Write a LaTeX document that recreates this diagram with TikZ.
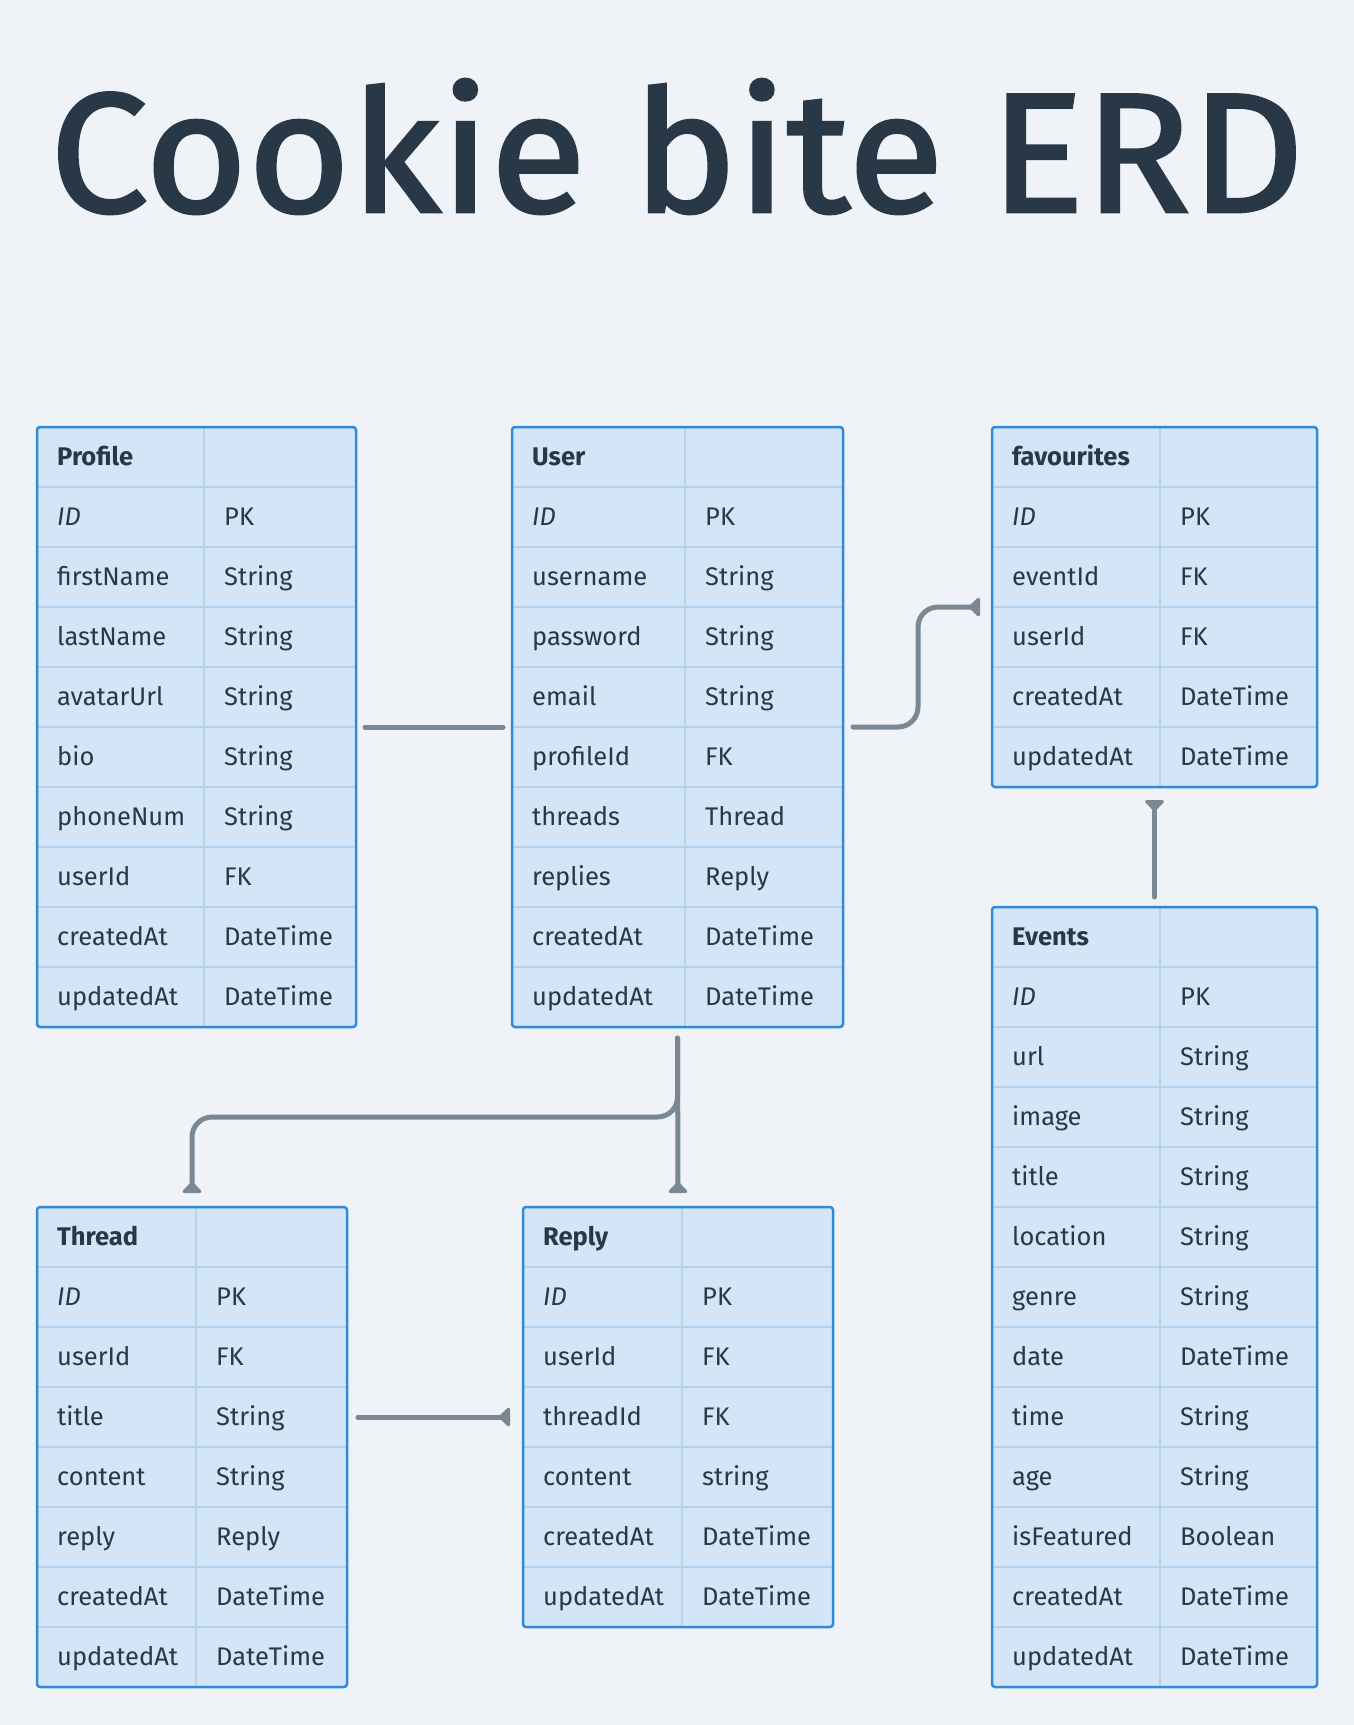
\documentclass[tikz,border=0pt]{standalone}
\usepackage{fontspec}
\setmainfont{Fira Sans}
\newfontfamily\titlefont[FakeBold=1.6]{Fira Sans}
\usetikzlibrary{arrows.meta,calc}
\definecolor{bg}{HTML}{EFF3F7}
\definecolor{tabfill}{HTML}{D3E5F6}
\definecolor{tabborder}{HTML}{3189DA}
\definecolor{gridblue}{HTML}{B3D3F2}
\definecolor{ink}{HTML}{283847}
\definecolor{linkgray}{HTML}{7A8896}
\tikzset{
  tablebox/.style={fill=tabfill, rounded corners=3pt, inner sep=0pt, outer sep=0pt},
  tableborder/.style={draw=tabborder, line width=2.5pt, rounded corners=3pt},
  gridline/.style={draw=gridblue, line width=2pt},
  celltext/.style={font=\fontsize{25.5}{29}\selectfont, text=ink, inner sep=0pt, anchor=base west},
  link/.style={draw=linkgray, line width=5pt, line cap=round, rounded corners=20pt},
  manyend/.style={-{Triangle[reversed, width=22pt, length=12pt, round]}}
}
% #1 name, #2 x, #3 y, #4 width, #5 first column width, #6 number of rows, #7 title, #8 rows
\newcommand\erdtab[8]{%
  \pgfmathsetmacro\tabh{#6*60}%
  \pgfmathtruncatemacro\lastk{#6-1}%
  \node[tablebox, anchor=north west, minimum width=#4pt, minimum height=\tabh pt] (#1) at (#2,#3) {};
  \foreach \k in {1,...,\lastk} {\draw[gridline] (#2,#3+60*\k) -- (#2+#4,#3+60*\k);}
  \draw[gridline] (#2+#5,#3) -- (#2+#5,#3+\tabh);
  \draw[tableborder] (#1.north west) rectangle (#1.south east);
  \node[celltext, font=\fontsize{25.5}{29}\selectfont\bfseries] (#1-title) at (#2+20,#3+38) {#7};
  \foreach[count=\i] \a/\b in {#8} {
    \node[celltext] (#1-n\i) at (#2+20, #3+38+60*\i) {\a};
    \node[celltext] (#1-t\i) at (#2+#5+20, #3+38+60*\i) {\b};
  }
}
\begin{document}
\begin{tikzpicture}[x=1pt,y=-1pt]
\fill[bg] (0,0) rectangle (1354,1725);
\useasboundingbox (0,0) rectangle (1354,1725);

\node[text=ink, inner sep=0pt] (title) at (677,146.5) {\resizebox{1254pt}{133pt}{\titlefont Cookie bite ERD}};

\erdtab{profile}{37}{427}{319}{167}{10}{Profile}{{\itshape ID}/PK, firstName/String, lastName/String, avatarUrl/String, bio/String, phoneNum/String, userId/FK, createdAt/DateTime, updatedAt/DateTime}
\erdtab{user}{512}{427}{331}{173}{10}{User}{{\itshape ID}/PK, username/String, password/String, email/String, profileId/FK, threads/Thread, replies/Reply, createdAt/DateTime, updatedAt/DateTime}
\erdtab{fav}{992}{427}{325}{168}{6}{favourites}{{\itshape ID}/PK, eventId/FK, userId/FK, createdAt/DateTime, updatedAt/DateTime}
\erdtab{events}{992}{907}{325}{168}{13}{Events}{{\itshape ID}/PK, url/String, image/String, title/String, location/String, genre/String, date/DateTime, time/String, age/String, isFeatured/Boolean, createdAt/DateTime, updatedAt/DateTime}
\erdtab{thread}{37}{1207}{310}{159}{8}{Thread}{{\itshape ID}/PK, userId/FK, title/String, content/String, reply/Reply, createdAt/DateTime, updatedAt/DateTime}
\erdtab{reply}{523}{1207}{310}{159}{7}{Reply}{{\itshape ID}/PK, userId/FK, threadId/FK, content/string, createdAt/DateTime, updatedAt/DateTime}

% connectors (y grows downward)
\draw[link] ($(profile.east)+(9,0)$) -- ($(user.west)+(-9,0)$);
\draw[link, manyend] ($(user.east)+(10,0)$) -- ++(65,0) |- ($(fav.west)+(-12,0)$);
\draw[link, manyend] ($(events.north)+(0,-10)$) -- ($(fav.south)+(0,13)$);
\draw[link, manyend] ($(user.south)+(0,11)$) -- ($(reply.north)+(0,-14)$);
\draw[link, manyend] ($(user.south)+(0,11)$) -- ++(0,79) -| ($(thread.north)+(0,-14)$);
\draw[link, manyend] ($(thread.east |- reply.west)+(11,0)$) -- ($(reply.west)+(-13,0)$);
\end{tikzpicture}
\end{document}
